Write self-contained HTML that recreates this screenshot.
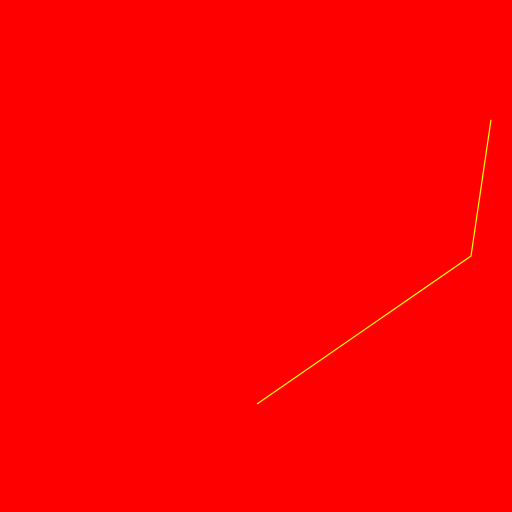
<!DOCTYPE html>
<html>
<head>
<meta charset="utf-8">
<style>
  html, body { margin: 0; padding: 0; background: #ff0000; }
  svg { display: block; }
</style>
</head>
<body>
<svg id="chart" width="512" height="512" viewBox="0 0 512 512">
  <rect x="0" y="0" width="512" height="512" fill="#ff0000"></rect>
  <g id="plot"></g>
</svg>
<script>
const xValues = [5.02, 9.2, 9.59];
const yValues = [2.11, 5.0, 7.66];

const xScale = v => v * 51.2;
const yScale = v => 512 - v * 51.2;

const plot = document.getElementById('plot');
const pts = xValues.map((x, i) => xScale(x).toFixed(1) + ',' + yScale(yValues[i]).toFixed(1)).join(' ');
const line = document.createElementNS('http://www.w3.org/2000/svg', 'polyline');
line.setAttribute('points', pts);
line.setAttribute('fill', 'none');
line.setAttribute('stroke', '#ffff00');
line.setAttribute('stroke-width', '1.2');


plot.appendChild(line);
</script>
</body>
</html>
